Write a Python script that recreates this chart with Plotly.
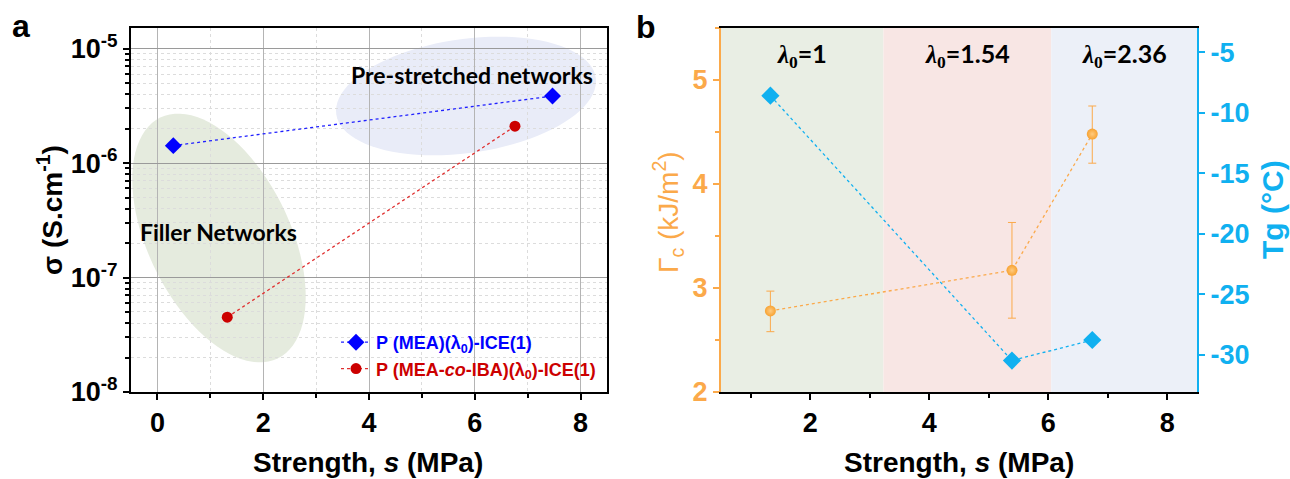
import math
import plotly.graph_objects as go

W, H = 1290, 479

# ---------------- data ----------------
# panel a
mea_s = [0.3, 7.47]
mea_sigma = [1.42e-6, 3.85e-6]
iba_s = [1.32, 6.76]
iba_sigma = [4.5e-8, 2.1e-6]
a_ytick_vals = [1e-8, 1e-7, 1e-6, 1e-5]
a_ytick_text = ["10<sup>-8</sup>", "10<sup>-7</sup>", "10<sup>-6</sup>", "10<sup>-5</sup>"]
a_xtick_vals = [0, 2, 4, 6, 8]

# panel b
gc_s = [1.33, 5.39, 6.74]
gc_val = [2.78, 3.17, 4.48]
gc_err_plus = [0.19, 0.46, 0.27]
gc_err_minus = [0.20, 0.46, 0.28]
tg_s = [1.33, 5.39, 6.74]
tg_val = [-8.6, -30.5, -28.8]
band_edges = [0.5, 3.23, 6.05, 8.5]
band_labels = ["1", "1.54", "2.36"]
b_xtick_vals = [2, 4, 6, 8]
b_ltick_vals = [2, 3, 4, 5]
b_rtick_vals = [-30, -25, -20, -15, -10, -5]
b_rtick_text = ["-30", "-25", "-20", "-15", "-10", "-5"]

# ---------------- style ----------------
ORANGE = "#FBA94A"
BLUE_B = "#10B0F0"
FONT = "Arial, Liberation Sans, sans-serif"
CAL = "Lato, Carlito, sans-serif"
TICK_SIZE = 27
TITLE_SIZE = 28

def px_x(p):
    return p / W

def px_y(p):
    return 1 - p / H

A_L, A_R, TOP, BOT = 131, 607, 28, 392
B_L, B_R = 721, 1197

fig = go.Figure()

# panel a traces
fig.add_trace(go.Scatter(
    x=mea_s, y=mea_sigma, mode="lines+markers", xaxis="x", yaxis="y",
    name='<span style="color:#0000FF">P (MEA)(λ<sub>0</sub>)-ICE(1)</span>',
    line=dict(color="#2020FF", width=1.3, dash="dot"),
    marker=dict(symbol="diamond", size=13, color="#0000FF")))
fig.add_trace(go.Scatter(
    x=iba_s, y=iba_sigma, mode="lines+markers", xaxis="x", yaxis="y",
    name='<span style="color:#CC0000">P (MEA-<i>co</i>-IBA)(λ<sub>0</sub>)-ICE(1)</span>',
    line=dict(color="#E03030", width=1.3, dash="dot"),
    marker=dict(symbol="circle", size=11, color="#CC0000")))

# panel b traces
fig.add_trace(go.Scatter(
    x=gc_s, y=gc_val, mode="lines+markers", xaxis="x2", yaxis="y2", showlegend=False,
    line=dict(color=ORANGE, width=1.3, dash="dot"),
    marker=dict(symbol="circle", size=11, color="#F7A232",
                gradient=dict(type="radial", color="#FFCB80")),
    error_y=dict(type="data", array=gc_err_plus, arrayminus=gc_err_minus,
                 color=ORANGE, thickness=1, width=4)))
fig.add_trace(go.Scatter(
    x=tg_s, y=tg_val, mode="lines+markers", xaxis="x2", yaxis="y3", showlegend=False,
    line=dict(color=BLUE_B, width=1.3, dash="dot"),
    marker=dict(symbol="diamond", size=14, color=BLUE_B)))

tickfont = dict(family=FONT, size=TICK_SIZE, color="black", weight="bold")

fig.update_layout(
    width=W, height=H, autosize=False,
    margin=dict(l=0, r=0, t=0, b=0, pad=0),
    paper_bgcolor="white", plot_bgcolor="rgba(0,0,0,0)",
    font=dict(family=FONT),
    xaxis=dict(domain=[px_x(A_L), px_x(A_R)], range=[-0.5, 8.5], anchor="y", automargin=False,
               tickmode="array", tickvals=a_xtick_vals, tickfont=tickfont,
               ticks="outside", ticklen=6, tickwidth=1.5, tickcolor="black",
               showline=True, linecolor="black", linewidth=2, mirror=True,
               showgrid=True, gridcolor="#B4B4B4", gridwidth=1, zeroline=False,
               minor=dict(dtick=1, tick0=0, ticks="outside", ticklen=4, tickcolor="black",
                          showgrid=True, gridcolor="#DCDCDC", griddash="dot")),
    yaxis=dict(domain=[px_y(BOT), px_y(TOP)], type="log", range=[-8, -4.82], anchor="x", automargin=False,
               tickmode="array", tickvals=a_ytick_vals, ticktext=a_ytick_text, tickfont=tickfont,
               ticks="outside", ticklen=6, tickwidth=1.5, tickcolor="black",
               showline=True, linecolor="black", linewidth=2, mirror=True,
               showgrid=True, gridcolor="#9A9A9A", gridwidth=1, zeroline=False,
               minor=dict(tickmode="array",
                          tickvals=[m * 10 ** e for e in range(-8, -4) for m in range(2, 10)],
                          ticks="outside", ticklen=4, tickcolor="black",
                          showgrid=True, gridcolor="#DCDCDC", griddash="dot")),
    xaxis2=dict(domain=[px_x(B_L), px_x(B_R)], range=[0.5, 8.5], anchor="y2", automargin=False,
                tickmode="array", tickvals=b_xtick_vals, tickfont=tickfont,
                ticks="outside", ticklen=6, tickwidth=1.5, tickcolor="black",
                showline=True, linecolor="black", linewidth=2, mirror=True,
                showgrid=False, zeroline=False,
                minor=dict(dtick=1, tick0=0, ticks="outside", ticklen=4, tickcolor="black")),
    yaxis2=dict(domain=[px_y(BOT), px_y(TOP)], range=[2, 5.5], anchor="x2", automargin=False,
                tickmode="array", tickvals=b_ltick_vals,
                tickfont=dict(family=FONT, size=TICK_SIZE, color=ORANGE, weight="bold"),
                ticks="outside", ticklen=6, tickwidth=1.5, tickcolor=ORANGE,
                showline=True, linecolor=ORANGE, linewidth=2,
                showgrid=False, zeroline=False,
                minor=dict(dtick=0.5, tick0=0, ticks="outside", ticklen=4, tickcolor=ORANGE)),
    yaxis3=dict(domain=[px_y(BOT), px_y(TOP)], range=[-33.1, -3], anchor="x2", automargin=False,
                overlaying="y2", side="right",
                tickmode="array", tickvals=b_rtick_vals, ticktext=b_rtick_text,
                tickfont=dict(family=FONT, size=TICK_SIZE, color=BLUE_B, weight="bold"),
                ticks="outside", ticklen=6, tickwidth=1.5, tickcolor=BLUE_B,
                showline=True, linecolor=BLUE_B, linewidth=2,
                showgrid=False, zeroline=False),
    legend=dict(x=px_x(336), y=px_y(324), xanchor="left", yanchor="top",
                bgcolor="rgba(0,0,0,0)", borderwidth=0,
                font=dict(family=FONT, size=18, weight="bold"),
                itemwidth=30, tracegroupgap=0),
)

# ellipses (decorations) in panel a, drawn from centre / radii / angle in pixels
def ellipse_path(cx, cy, a, b, ang_deg, n=90):
    t = math.radians(ang_deg)
    pts = []
    for i in range(n):
        u = 2 * math.pi * i / n
        x = cx + a * math.cos(u) * math.cos(t) - b * math.sin(u) * math.sin(t)
        y = cy + a * math.cos(u) * math.sin(t) + b * math.sin(u) * math.cos(t)
        pts.append(f"{px_x(x):.5f},{px_y(y):.5f}")
    return "M" + " L".join(pts) + " Z"

shapes = [
    dict(type="path", xref="paper", yref="paper", layer="below",
         path=ellipse_path(219, 238, 134, 71, 64), fillcolor="#E5EBDE", line=dict(width=0)),
    dict(type="path", xref="paper", yref="paper", layer="below",
         path=ellipse_path(466, 96, 131, 57, -8), fillcolor="#E9ECF8", line=dict(width=0)),
]
band_colors = ["#E9EEE4", "#F8E6E4", "#ECF0F8"]
for i in range(3):
    shapes.append(dict(type="rect", xref="x2", yref="y2 domain", layer="below",
                       x0=band_edges[i], x1=band_edges[i + 1], y0=0, y1=1,
                       fillcolor=band_colors[i], line=dict(width=0)))
fig.update_layout(shapes=shapes)

ann = []
def add_text(text, x, y, size, color="black", angle=0, family=FONT, weight="bold", xref="paper", yref="paper"):
    ann.append(dict(text=text, x=x, y=y, xref=xref, yref=yref, showarrow=False,
                    xanchor="center", yanchor="middle", textangle=angle,
                    font=dict(family=family, size=size, color=color, weight=weight)))

add_text("a", px_x(21), px_y(26), 32)
add_text("b", px_x(646), px_y(27), 32)
add_text("σ (S.cm<sup>-1</sup>)", px_x(50), px_y(210), TITLE_SIZE, angle=-90)
add_text("Strength, <i>s</i> (MPa)", px_x(368), px_y(462), TITLE_SIZE)
add_text("Strength, <i>s</i> (MPa)", px_x(959), px_y(462), TITLE_SIZE)
add_text("Γ<sub>c</sub> (kJ/m<sup>2</sup>)", px_x(668), px_y(212), TITLE_SIZE, color=ORANGE, angle=-90, weight="normal")
add_text("Tg (°C)", px_x(1272), px_y(210), 30, color=BLUE_B, angle=-90)
add_text("Filler Networks", px_x(218), px_y(232), 23, family=CAL)
add_text("Pre-stretched networks", px_x(472), px_y(75), 23, family=CAL)
for i, lab in enumerate(band_labels):
    xc = (band_edges[i] + band_edges[i + 1]) / 2
    add_text('<span style="font-family:Liberation Serif,Times New Roman,serif"><i>λ</i><sub>0</sub></span>=' + lab,
             xc, 0.925, 25, family=CAL, xref="x2", yref="y2 domain")
fig.update_layout(annotations=ann)

fig.write_html("out.html")
